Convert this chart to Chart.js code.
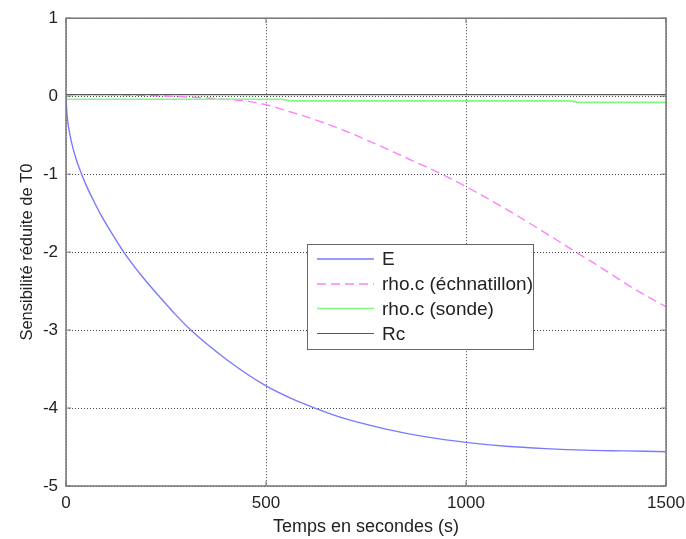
<!DOCTYPE html>
<html>
<head>
<meta charset="utf-8">
<script src="https://cdn.jsdelivr.net/npm/chart.js@4"></script>
<style>
  html, body { margin: 0; padding: 0; background: #fff; }
  canvas { display: block; }
</style>
</head>
<body>
<canvas id="chart" width="686" height="539"></canvas>
<script>
// Data
const timeE = [0, 2, 5, 10, 18, 28, 39, 52, 68, 88, 110, 143, 190, 235, 270, 312, 402, 498, 560, 622, 700, 800, 900, 1000, 1100, 1200, 1300, 1400, 1500];
const valuesE = [0, -0.2, -0.35, -0.5, -0.68, -0.85, -1.0, -1.16, -1.33, -1.53, -1.72, -1.99, -2.31, -2.58, -2.78, -3.0, -3.38, -3.71, -3.87, -4.0, -4.14, -4.27, -4.37, -4.44, -4.49, -4.52, -4.54, -4.55, -4.56];

const timeRhoEch = [0, 100, 200, 300, 400, 460, 500, 560, 627, 700, 777, 850, 927, 1000, 1060, 1127, 1200, 1272, 1350, 1420, 1500];
const valuesRhoEch = [0.02, 0.02, 0.01, -0.01, -0.04, -0.07, -0.11, -0.2, -0.31, -0.45, -0.62, -0.79, -0.97, -1.16, -1.33, -1.53, -1.76, -1.99, -2.24, -2.47, -2.70];

const timeRhoSonde = [0, 540, 560, 1260, 1280, 1500];
const valuesRhoSonde = [-0.04, -0.04, -0.06, -0.06, -0.08, -0.08];

const timeRc = [0, 1500];
const valuesRc = [0.02, 0.02];

const seriesLabels = ['E', 'rho.c (échnatillon)', 'rho.c (sonde)', 'Rc'];
const xTicks = [0, 500, 1000, 1500];
const yTicks = [-5, -4, -3, -2, -1, 0, 1];

const toPoints = (xs, ys) => xs.map((x, i) => ({ x: x, y: ys[i] }));

const FONT = '"Liberation Sans", Arial, sans-serif';

// MATLAB-like box with inward ticks
const framePlugin = {
  id: 'frame',
  afterDraw(chart) {
    const { ctx, chartArea: a, scales } = chart;
    ctx.save();
    ctx.strokeStyle = '#777';
    ctx.lineWidth = 1.5;
    ctx.strokeRect(a.left, a.top, a.right - a.left, a.bottom - a.top);
    ctx.lineWidth = 1;
    ctx.beginPath();
    xTicks.forEach(t => {
      const px = scales.x.getPixelForValue(t);
      ctx.moveTo(px, a.bottom); ctx.lineTo(px, a.bottom - 5);
      ctx.moveTo(px, a.top); ctx.lineTo(px, a.top + 5);
    });
    yTicks.forEach(t => {
      const py = scales.y.getPixelForValue(t);
      ctx.moveTo(a.left, py); ctx.lineTo(a.left + 5, py);
      ctx.moveTo(a.right, py); ctx.lineTo(a.right - 5, py);
    });
    ctx.stroke();
    ctx.restore();
  }
};

// Legend box placed inside the plot, like the reference
const boxLegendPlugin = {
  id: 'boxLegend',
  afterDraw(chart) {
    const { ctx } = chart;
    const x0 = 307, y0 = 244, w = 226, h = 105;
    const rows = [259, 284, 308.5, 333.5];
    ctx.save();
    ctx.fillStyle = '#fff';
    ctx.fillRect(x0, y0, w, h);
    ctx.strokeStyle = '#666';
    ctx.lineWidth = 1;
    ctx.strokeRect(x0 + 0.5, y0 + 0.5, w, h);
    chart.data.datasets.forEach((ds, i) => {
      ctx.beginPath();
      ctx.strokeStyle = ds.borderColor;
      ctx.lineWidth = ds.borderWidth;
      ctx.setLineDash(ds.borderDash || []);
      ctx.moveTo(317, rows[i]);
      ctx.lineTo(374, rows[i]);
      ctx.stroke();
      ctx.setLineDash([]);
      ctx.fillStyle = '#222';
      ctx.font = '19px ' + FONT;
      ctx.textBaseline = 'middle';
      ctx.fillText(ds.label, 382, rows[i] + 1);
    });
    ctx.restore();
  }
};

const ctx = document.getElementById('chart').getContext('2d');
new Chart(ctx, {
  type: 'line',
  data: {
    datasets: [
      {
        label: seriesLabels[0],
        data: toPoints(timeE, valuesE),
        borderColor: 'rgb(122, 122, 255)',
        borderWidth: 1.4,
        cubicInterpolationMode: 'monotone',
        order: 4
      },
      {
        label: seriesLabels[1],
        data: toPoints(timeRhoEch, valuesRhoEch),
        borderColor: 'rgb(255, 128, 255)',
        borderWidth: 1.4,
        borderDash: [9, 5],
        cubicInterpolationMode: 'monotone',
        order: 3
      },
      {
        label: seriesLabels[2],
        data: toPoints(timeRhoSonde, valuesRhoSonde),
        borderColor: 'rgb(128, 250, 128)',
        borderWidth: 1.6,
        tension: 0,
        order: 2
      },
      {
        label: seriesLabels[3],
        data: toPoints(timeRc, valuesRc),
        borderColor: 'rgb(90, 90, 90)',
        borderWidth: 1.2,
        tension: 0,
        order: 1
      }
    ]
  },
  options: {
    responsive: false,
    animation: false,
    layout: { padding: { top: 13, right: 20, left: 0, bottom: 0 } },
    elements: { point: { radius: 0 } },
    plugins: {
      legend: { display: false },
      tooltip: { enabled: false }
    },
    scales: {
      x: {
        type: 'linear',
        min: 0,
        max: 1500,
        afterBuildTicks: s => { s.ticks = xTicks.map(v => ({ value: v })); },
        afterFit: s => { s.height = 53; s.paddingRight = 0; s.paddingLeft = 0; },
        ticks: { color: '#222', font: { family: FONT, size: 17 }, padding: 7, maxRotation: 0, callback: v => String(v) },
        grid: { color: '#444', lineWidth: 1, drawTicks: false, tickLength: 0 },
        border: { display: false, dash: [1, 2] },
        title: {
          display: true,
          text: 'Temps en secondes (s)',
          color: '#222',
          font: { family: FONT, size: 18 },
          padding: { top: 0, bottom: 1 }
        }
      },
      y: {
        min: -5,
        max: 1,
        afterBuildTicks: s => { s.ticks = yTicks.map(v => ({ value: v })); },
        afterFit: s => { s.width = 66; },
        ticks: { color: '#222', font: { family: FONT, size: 17 }, padding: 8, callback: v => String(v) },
        grid: { color: '#444', lineWidth: 1, drawTicks: false, tickLength: 0 },
        border: { display: false, dash: [1, 2] },
        title: {
          display: true,
          text: 'Sensibilité réduite de T0',
          color: '#222',
          font: { family: FONT, size: 16.5 },
          padding: { top: 18, bottom: 0 }
        }
      }
    }
  },
  plugins: [framePlugin, boxLegendPlugin]
});
</script>
</body>
</html>
